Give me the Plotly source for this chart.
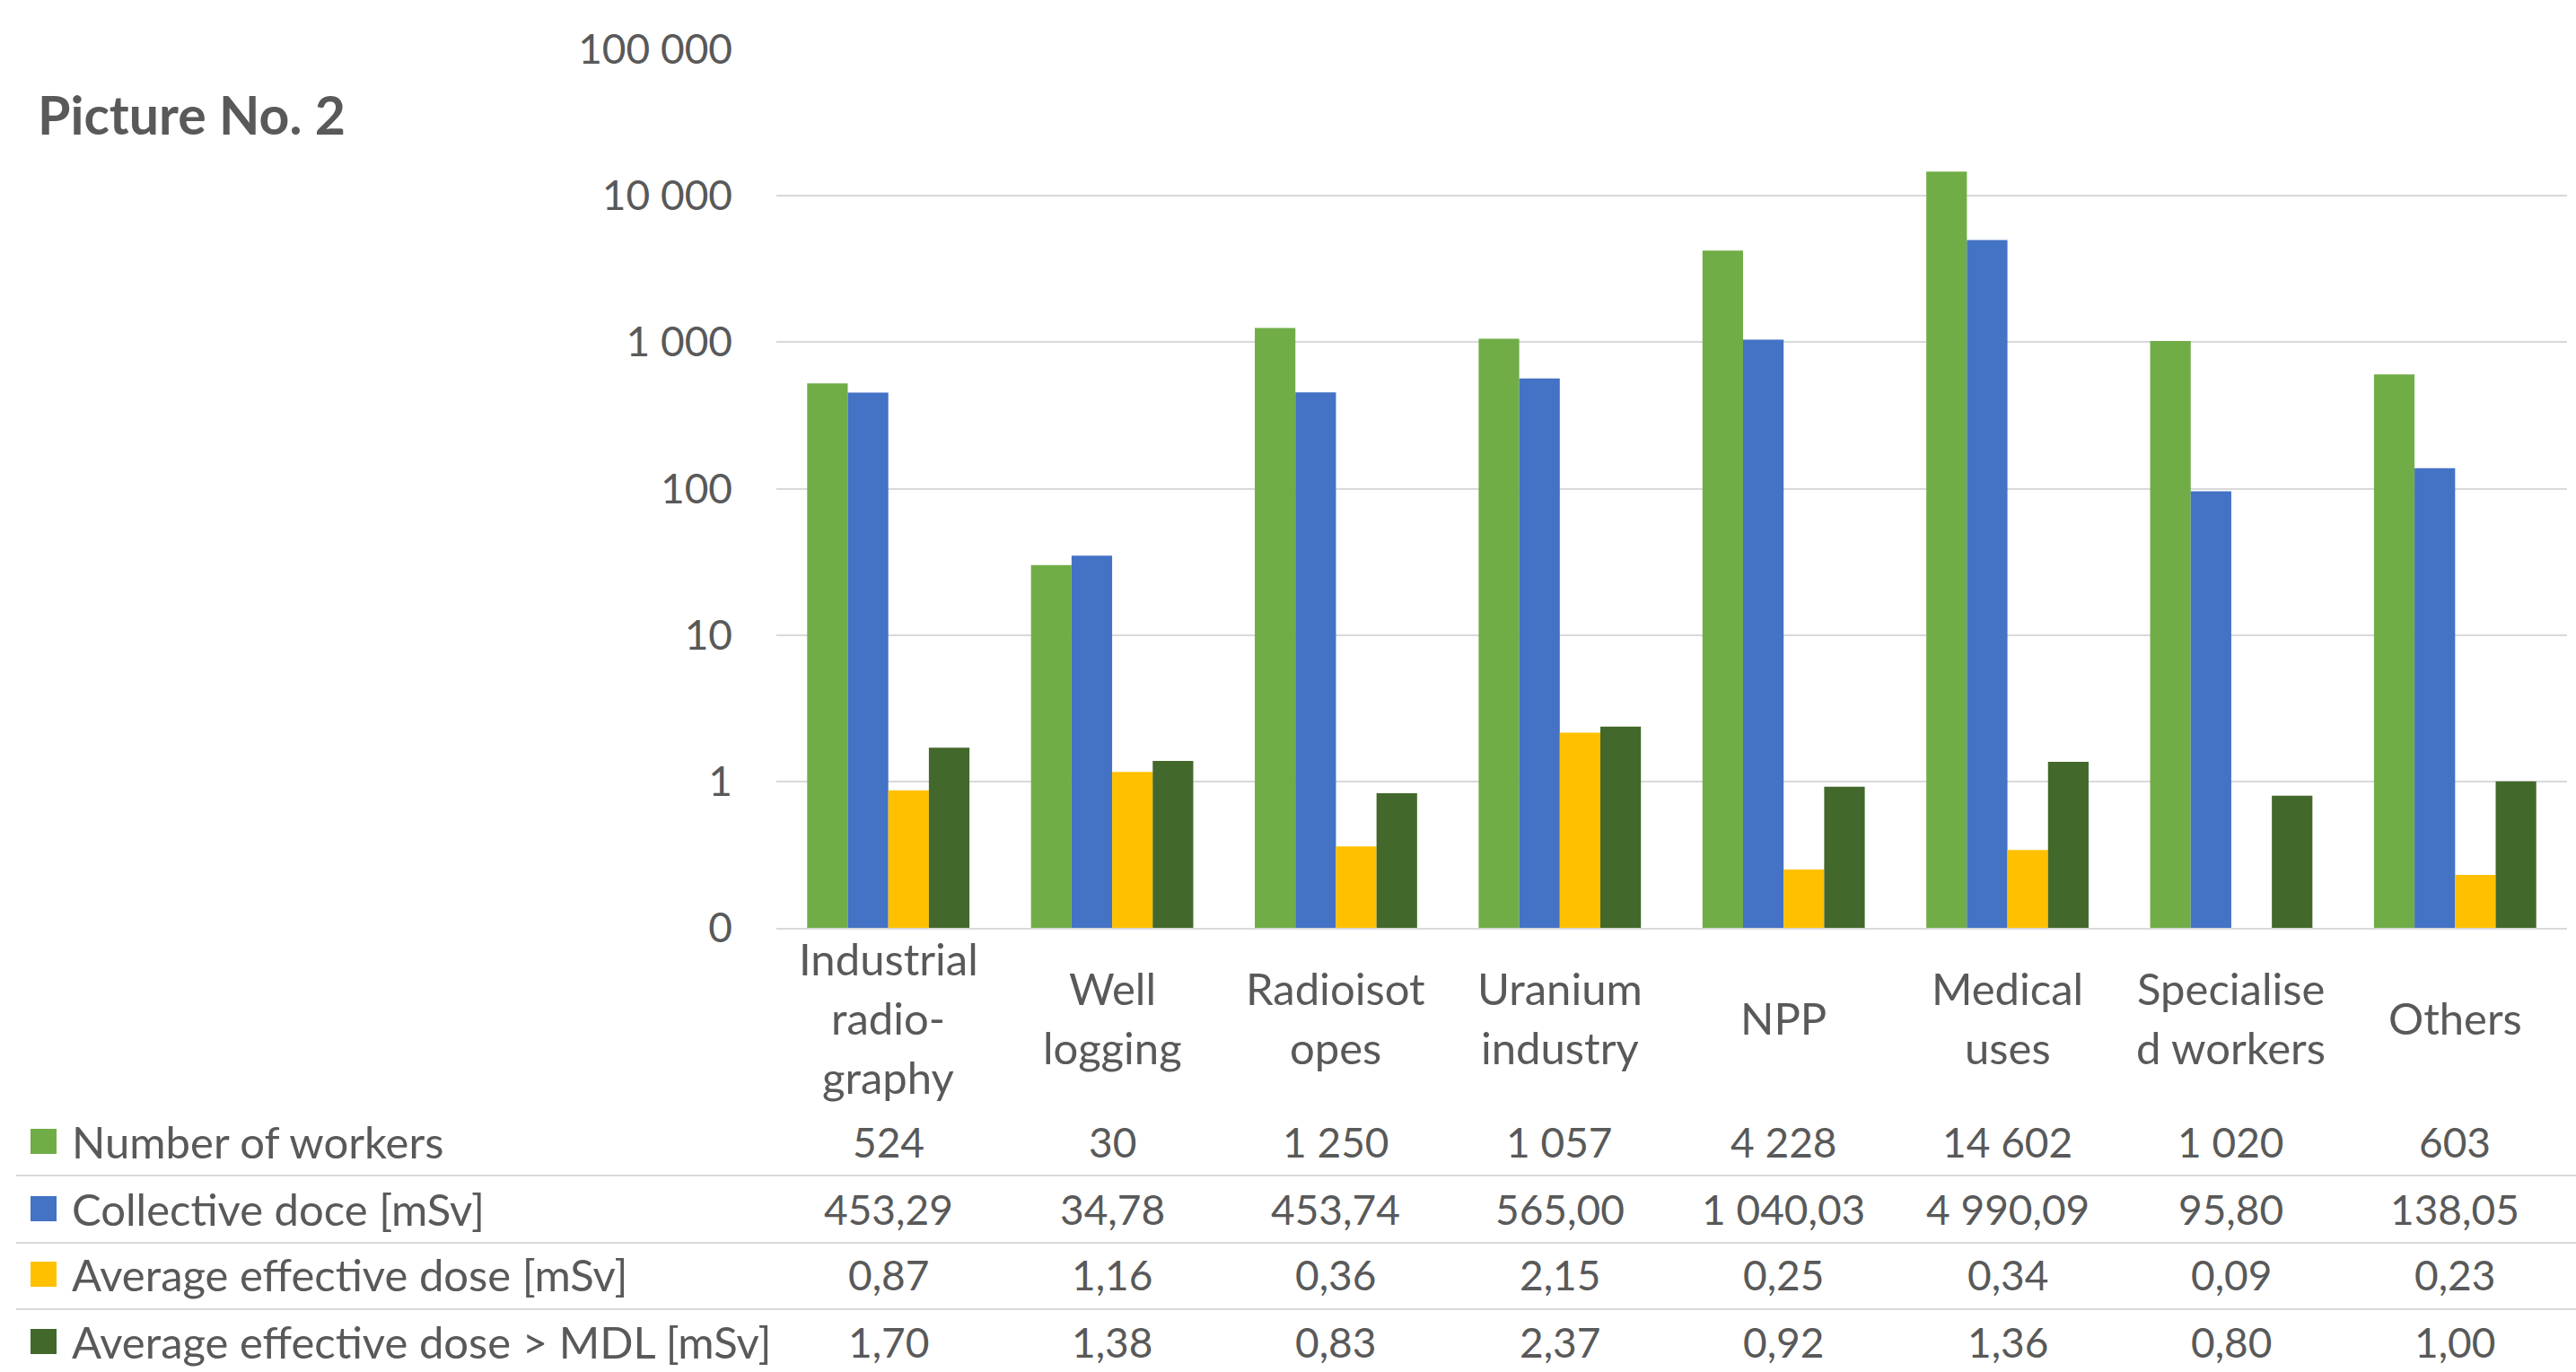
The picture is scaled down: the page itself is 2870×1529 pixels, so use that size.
import plotly.graph_objects as go

categories = ["Industrial<br>radio-<br>graphy", "Well<br>logging", "Radioisot<br>opes",
              "Uranium<br>industry", "NPP", "Medical<br>uses", "Specialise<br>d workers", "Others"]
series_names = ["Number of workers", "Collective doce [mSv]",
                "Average effective dose [mSv]", "Average effective dose > MDL [mSv]"]
workers = [524, 30, 1250, 1057, 4228, 14602, 1020, 603]
collective = [453.29, 34.78, 453.74, 565.00, 1040.03, 4990.09, 95.80, 138.05]
avg_dose = [0.87, 1.16, 0.36, 2.15, 0.25, 0.34, 0.09, 0.23]
avg_dose_mdl = [1.70, 1.38, 0.83, 2.37, 0.92, 1.36, 0.80, 1.00]
decimals = [0, 2, 2, 2]
colors = ["#70AD47", "#4472C4", "#FFC000", "#43682B"]
ytick_vals = [0.1, 1, 10, 100, 1000, 10000, 100000]
ytick_text = ["0", "1", "10", "100", "1 000", "10 000", "100 000"]
title_text = "Picture No. 2"

series = [workers, collective, avg_dose, avg_dose_mdl]

FONT = "Lato"
TXT = "#595959"
GRID = "#D9D9D9"
FS_NUM = 46
FS_TXT = 49
LINE_H = 66

W, H = 2870, 1529
L, R, T, B = 865, 10, 55, 1529 - 1034
PW = W - L - R
PH = H - T - B


def px_x(px):
    return (px - L) / PW


def px_y(py):
    return (H - B - py) / PH


def fmt(v, d):
    s = f"{v:,.{d}f}"
    return s.replace(",", " ").replace(".", ",")


fig = go.Figure()
for name, vals, c in zip(series_names, series, colors):
    fig.add_trace(go.Bar(x=categories, y=vals, name=name, marker=dict(color=c, line=dict(width=0)),
                         showlegend=False))

annotations = []
shapes = []

# category labels, each line placed separately to control line spacing
CAT_MID = 1134
for cat in categories:
    lines = cat.split("<br>")
    n = len(lines)
    for i, ln in enumerate(lines):
        py = CAT_MID + (i - (n - 1) / 2) * LINE_H
        annotations.append(dict(x=cat, y=px_y(py), xref="x", yref="paper", text=ln, showarrow=False,
                                xanchor="center", yanchor="middle",
                                font=dict(family=FONT, size=FS_TXT, color=TXT)))

# data table
row_y = [1272, 1347, 1420, 1495]
for name, vals, c, d, ry in zip(series_names, series, colors, decimals, row_y):
    shapes.append(dict(type="rect", xref="paper", yref="paper",
                       x0=px_x(34), x1=px_x(63), y0=px_y(ry - 14), y1=px_y(ry + 14),
                       fillcolor=c, line=dict(width=0)))
    annotations.append(dict(x=px_x(78), y=px_y(ry), xref="paper", yref="paper", text=name,
                            showarrow=False, xanchor="left", yanchor="middle",
                            font=dict(family=FONT, size=FS_TXT, color=TXT)))
    for cat, v in zip(categories, vals):
        annotations.append(dict(x=cat, y=px_y(ry), xref="x", yref="paper", text=fmt(v, d),
                                showarrow=False, xanchor="center", yanchor="middle",
                                font=dict(family=FONT, size=FS_NUM, color=TXT)))

for ly in [1310, 1385, 1459]:
    shapes.append(dict(type="line", xref="paper", yref="paper", x0=px_x(18), x1=px_x(2870),
                       y0=px_y(ly), y1=px_y(ly), line=dict(color=GRID, width=2)))

annotations.append(dict(x=px_x(40), y=px_y(128), xref="paper", yref="paper", text="<b>" + title_text + "</b>",
                        showarrow=False, xanchor="left", yanchor="middle",
                        font=dict(family=FONT, size=59, color=TXT)))

fig.update_layout(
    width=W, height=H,
    margin=dict(l=L, r=R, t=T, b=B, pad=0),
    paper_bgcolor="white", plot_bgcolor="white",
    barmode="group", bargap=0.275, bargroupgap=0,
    annotations=annotations, shapes=shapes,
    font=dict(family=FONT, size=FS_NUM, color=TXT),
)
fig.update_xaxes(showticklabels=False, showgrid=False, showline=True, linecolor=GRID, linewidth=2,
                 ticks="", fixedrange=True)
fig.update_yaxes(type="log", range=[-1, 5], tickvals=ytick_vals, ticktext=ytick_text,
                 showgrid=True, gridcolor=GRID, gridwidth=2, zeroline=False, showline=False,
                 ticks="", ticklabelstandoff=48, tickfont=dict(family=FONT, size=FS_NUM, color=TXT))

fig.write_html("out.html")
